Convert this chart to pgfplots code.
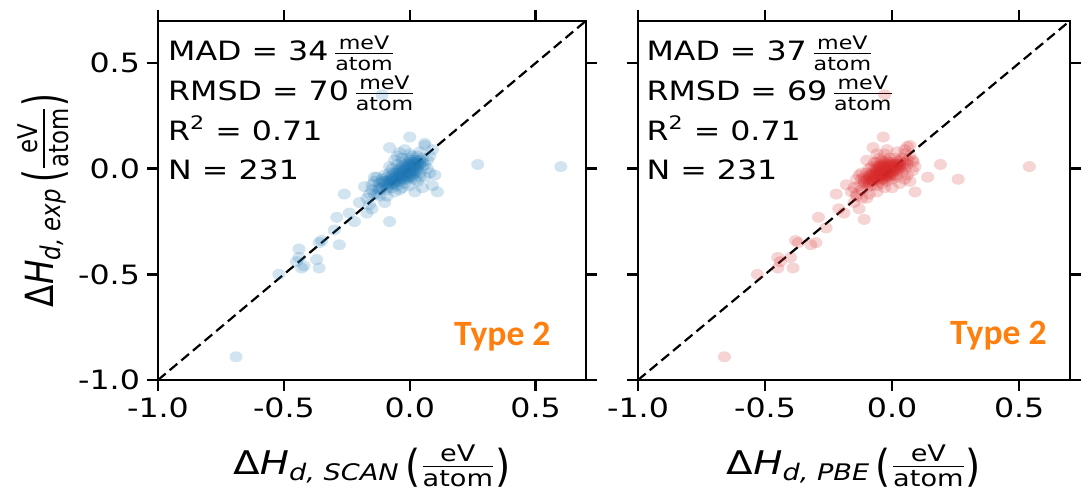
\documentclass[border=0pt]{standalone}
\usepackage{amsmath}
\usepackage{graphicx}
\usepackage{fontspec}
\setmainfont{DejaVu Sans}[FakeStretch=1.19]
\newfontfamily\plainfont{DejaVu Sans}
\newfontfamily\carlito{Carlito}
\usepackage{pgfplots}
\usepackage{pgfplotstable}
\pgfplotsset{compat=1.18}
\definecolor{tabblue}{HTML}{1F77B4}
\definecolor{tabred}{HTML}{D62728}
\definecolor{typeorange}{HTML}{FF7F0E}
\newcommand{\lpar}{\raisebox{-0.2em}{\scalebox{1}[1.35]{(}}}
\newcommand{\rpar}{\raisebox{-0.2em}{\scalebox{1}[1.35]{)}}}

\pgfplotstableread{
x y
-0.69 -0.89
-0.52 -0.50
-0.45 -0.44
-0.44 -0.38
-0.43 -0.47
-0.42 -0.46
-0.44 -0.42
-0.37 -0.43
-0.36 -0.47
-0.36 -0.35
-0.35 -0.34
-0.28 -0.36
-0.30 -0.29
-0.29 -0.23
-0.26 -0.12
-0.22 -0.25
-0.24 -0.21
-0.20 -0.16
-0.17 -0.21
-0.15 -0.19
-0.18 -0.085
-0.16 -0.17
-0.15 -0.075
-0.14 -0.04
-0.13 -0.12
-0.12 -0.10
-0.10 -0.16
-0.08 -0.25
-0.11 0.35
-0.08 0.10
-0.04 0.076
0.00 0.15
0.06 0.11
0.06 0.12
0.09 0.09
0.10 -0.03
0.11 -0.11
0.09 -0.08
0.02 -0.11
0.27 0.02
0.60 0.01
-0.08 0.01
-0.12 -0.07
-0.11 -0.05
-0.11 -0.09
-0.10 -0.06
-0.10 -0.08
-0.10 -0.03
-0.09 -0.04
-0.09 -0.07
-0.09 -0.10
-0.08 -0.05
-0.08 -0.02
-0.08 -0.08
-0.07 -0.03
-0.07 -0.06
-0.07 -0.09
-0.07 0.00
-0.06 -0.02
-0.06 -0.04
-0.06 -0.07
-0.06 0.04
-0.05 -0.01
-0.05 -0.03
-0.05 -0.05
-0.05 -0.08
-0.05 0.02
-0.04 0.00
-0.04 -0.02
-0.04 -0.04
-0.04 -0.06
-0.04 -0.10
-0.03 0.01
-0.03 -0.01
-0.03 -0.03
-0.03 -0.05
-0.03 0.05
-0.02 0.02
-0.02 0.00
-0.02 -0.02
-0.02 -0.04
-0.02 -0.07
-0.01 0.03
-0.01 0.01
-0.01 -0.01
-0.01 -0.03
-0.01 -0.05
0.00 0.04
0.00 0.02
0.00 0.00
0.00 -0.02
0.00 -0.04
0.00 0.07
0.01 0.03
0.01 0.01
0.01 -0.01
0.01 -0.03
0.01 0.06
0.02 0.04
0.02 0.02
0.02 0.00
0.02 -0.02
0.03 0.03
0.03 0.01
0.03 -0.01
0.03 0.06
0.04 0.04
0.04 0.02
0.04 -0.02
0.05 0.05
0.05 0.01
0.06 0.02
0.06 -0.04
0.07 0.00
0.07 0.04
0.08 -0.02
-0.14 -0.06
-0.13 -0.09
-0.13 -0.04
-0.15 -0.10
-0.16 -0.12
-0.17 -0.14
-0.14 -0.12
-0.12 -0.13
-0.09 -0.13
-0.06 -0.11
-0.03 -0.09
0.00 -0.08
0.03 -0.06
0.05 -0.09
-0.02 0.09
-0.05 0.06
0.04 0.08
0.08 0.06
-0.03 -0.02
-0.02 -0.01
-0.01 0.00
0.00 0.01
0.01 0.02
-0.04 -0.03
-0.05 -0.04
-0.06 -0.05
0.02 0.01
0.03 0.02
-0.02 -0.03
-0.01 -0.02
0.00 -0.01
0.01 0.00
-0.07 -0.05
-0.08 -0.06
0.02 0.03
-0.03 0.00
-0.04 -0.01
0.01 -0.02
-0.10 -0.07
-0.09 -0.06
-0.08 -0.07
-0.07 -0.04
-0.06 -0.06
-0.05 -0.02
-0.04 -0.05
-0.03 -0.04
-0.02 -0.05
-0.01 -0.04
0.00 -0.03
0.01 -0.04
0.02 -0.01
0.03 0.00
0.02 0.02
0.01 0.01
0.00 0.02
-0.01 -0.02
-0.02 -0.02
-0.03 -0.03
-0.04 -0.04
-0.05 -0.06
-0.06 -0.06
-0.11 -0.06
-0.12 -0.09
0.04 0.03
0.03 0.04
-0.03 0.03
0.05 0.03
-0.07 -0.07
0.00 0.05
0.04 -0.04
-0.09 -0.09
-0.01 0.02
0.02 -0.05
}\scan

\pgfplotstableread{
x y
-0.66 -0.89
-0.53 -0.50
-0.45 -0.42
-0.44 -0.44
-0.45 -0.47
-0.40 -0.42
-0.39 -0.47
-0.38 -0.34
-0.37 -0.35
-0.32 -0.36
-0.30 -0.35
-0.29 -0.23
-0.26 -0.28
-0.22 -0.12
-0.21 -0.19
-0.19 -0.21
-0.18 -0.076
-0.15 -0.16
-0.13 -0.19
-0.14 -0.13
-0.13 -0.03
-0.11 -0.24
-0.12 -0.10
-0.10 -0.14
-0.03 0.35
-0.035 0.15
-0.075 0.10
0.06 0.105
0.07 0.11
0.05 0.09
0.083 0.033
0.08 0.04
0.09 -0.11
0.14 -0.04
0.19 0.02
0.26 -0.05
0.54 0.01
-0.13 -0.08
-0.12 -0.05
-0.12 -0.02
-0.11 -0.07
-0.11 -0.04
-0.10 -0.09
-0.10 -0.05
-0.10 -0.02
-0.09 -0.06
-0.09 -0.03
-0.09 0.00
-0.08 -0.08
-0.08 -0.05
-0.08 -0.02
-0.08 0.01
-0.07 -0.06
-0.07 -0.03
-0.07 0.00
-0.07 0.03
-0.06 -0.08
-0.06 -0.05
-0.06 -0.02
-0.06 0.01
-0.05 -0.06
-0.05 -0.03
-0.05 0.00
-0.05 0.02
-0.05 0.05
-0.04 -0.07
-0.04 -0.04
-0.04 -0.01
-0.04 0.01
-0.04 0.04
-0.03 -0.05
-0.03 -0.02
-0.03 0.00
-0.03 0.02
-0.03 0.07
-0.02 -0.06
-0.02 -0.03
-0.02 -0.01
-0.02 0.01
-0.02 0.04
-0.01 -0.04
-0.01 -0.02
-0.01 0.00
-0.01 0.02
-0.01 0.05
0.00 -0.05
0.00 -0.02
0.00 0.00
0.00 0.03
0.01 -0.03
0.01 0.00
0.01 0.02
0.01 0.05
0.02 -0.04
0.02 -0.01
0.02 0.01
0.02 0.03
0.03 0.00
0.03 0.02
0.03 0.04
0.04 -0.02
0.04 0.01
0.04 0.05
0.05 -0.05
0.05 0.00
0.05 0.03
0.06 0.02
0.06 -0.03
0.07 -0.06
0.07 0.06
0.08 -0.01
0.09 0.01
-0.14 -0.05
-0.15 -0.09
-0.16 -0.11
-0.14 -0.12
-0.12 -0.14
-0.09 -0.12
-0.06 -0.11
-0.03 -0.09
0.00 -0.09
0.03 -0.07
-0.10 0.04
-0.06 0.07
-0.02 0.09
0.02 0.08
0.05 0.07
-0.04 -0.02
-0.03 -0.01
-0.02 0.00
-0.05 -0.02
-0.06 -0.03
-0.04 0.00
-0.03 -0.03
-0.02 -0.02
-0.01 -0.01
-0.05 -0.04
-0.07 -0.04
-0.08 -0.04
-0.01 0.01
0.00 0.01
-0.06 -0.01
-0.03 0.01
-0.09 -0.05
-0.04 -0.05
0.00 -0.01
-0.02 -0.04
-0.09 -0.04
-0.08 -0.03
-0.07 -0.05
-0.07 -0.02
-0.06 -0.04
-0.06 0.00
-0.05 -0.01
-0.05 0.01
-0.04 -0.03
-0.04 0.02
-0.03 -0.04
-0.03 0.03
-0.02 -0.01
-0.02 0.02
-0.01 -0.03
-0.01 0.03
0.00 -0.03
0.00 0.02
0.01 -0.01
0.01 0.01
0.02 0.00
0.02 0.02
0.03 0.01
-0.11 -0.06
-0.10 -0.07
-0.08 -0.06
-0.04 -0.03
-0.03 -0.01
-0.02 -0.02
-0.05 -0.03
0.03 0.03
0.04 0.02
-0.06 0.03
-0.09 -0.07
0.06 0.04
}\pbe

\pgfplotsset{
  myaxis/.style={
    scale only axis,
    height=179.6pt,
    xmin=-1, xmax=0.7, ymin=-1, ymax=0.7,
    xtick={-1,-0.5,0,0.5}, ytick={-1,-0.5,0,0.5},
    xticklabels={-1.0,-0.5,0.0,0.5},
    tick align=outside,
    major tick length=5.5pt,
    axis line style={line width=1.25pt},
    every tick/.style={black, line width=1.25pt},
    tick label style={font=\fontsize{13.3}{16}\selectfont},
    xlabel style={font=\fontsize{16.3}{19}\selectfont, at={([yshift=-47.5pt]axis description cs:0.5,0)}, anchor=base},
    ylabel style={font=\fontsize{16.3}{19}\selectfont, at={([xshift=-52pt]axis description cs:0,0.5)}, anchor=base},
  },
  scat/.style={only marks, mark=*, mark size=2.75pt, mark options={xscale=1.19, draw=#1, fill=#1, draw opacity=0, fill opacity=0.2}},
  diag/.style={black, line width=1.1pt, dash pattern=on 5pt off 2.6pt},
}
\tikzset{
  stat/.style={anchor=base west, inner sep=0pt},
  typelab/.style={anchor=base east, text=typeorange, inner sep=0pt},
}
\newcommand{\st}{\fontsize{13.3}{16}\selectfont}
\newcommand{\ty}{\fontsize{17.8}{20}\selectfont\carlito\bfseries}

\begin{document}
\begin{tikzpicture}
\path[use as bounding box] (-79pt,-58pt) rectangle (463.5pt,190pt);

\begin{axis}[myaxis, width=214pt, at={(0pt,0pt)}, anchor=south west,
  yticklabels={-1.0,-0.5,0.0,0.5},
  xlabel={Δ\textit{H}$_{\textit{d, SCAN}}$\,\lpar$\frac{\text{eV}}{\text{atom}}$\rpar},
  ylabel={\scalebox{1}[1.19]{\plainfont Δ\textit{H}$_{\textit{d, exp}}$\,\lpar$\frac{\text{eV}}{\text{atom}}$\rpar}}]
\addplot[scat=tabblue] table {\scan};
\addplot[diag] coordinates {(-1,-1) (0.7,0.7)};
\node[stat] at (rel axis cs:0.023,0.889) {\st MAD = 34\,$\frac{\text{meV}}{\text{atom}}$};
\node[stat] at (rel axis cs:0.023,0.778) {\st RMSD = 70\,$\frac{\text{meV}}{\text{atom}}$};
\node[stat] at (rel axis cs:0.023,0.668) {\st R\textsuperscript{2} = 0.71};
\node[stat] at (rel axis cs:0.023,0.557) {\st N = 231};
\node[typelab] at (rel axis cs:0.918,0.097) {\ty Type 2};
\end{axis}

\begin{axis}[myaxis, width=216pt, at={(240pt,0pt)}, anchor=south west,
  yticklabels={},
  xlabel={Δ\textit{H}$_{\textit{d, PBE}}$\,\lpar$\frac{\text{eV}}{\text{atom}}$\rpar}]
\addplot[scat=tabred] table {\pbe};
\addplot[diag] coordinates {(-1,-1) (0.7,0.7)};
\node[stat] at (rel axis cs:0.019,0.889) {\st MAD = 37\,$\frac{\text{meV}}{\text{atom}}$};
\node[stat] at (rel axis cs:0.019,0.778) {\st RMSD = 69\,$\frac{\text{meV}}{\text{atom}}$};
\node[stat] at (rel axis cs:0.019,0.668) {\st R\textsuperscript{2} = 0.71};
\node[stat] at (rel axis cs:0.019,0.557) {\st N = 231};
\node[typelab] at (rel axis cs:0.947,0.100) {\ty Type 2};
\end{axis}
\end{tikzpicture}
\end{document}
